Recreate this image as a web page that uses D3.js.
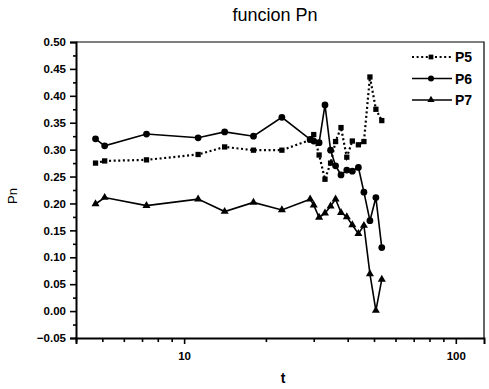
<!DOCTYPE html>
<html>
<head>
<meta charset="utf-8">
<script src="https://cdn.jsdelivr.net/npm/d3@7"></script>
<style>
  body { margin: 0; background: #fff; }
  text { font-family: "Liberation Sans", Arial, sans-serif; }
</style>
</head>
<body>
<div class="chart"></div>
<script>
// funcion Pn -- three series over t (log axis)

const width = 489
const height = 389

const tValues = [4.72, 5.1, 7.27, 11.26, 14.1, 18.0, 22.9, 29.1, 30.0, 31.4, 33.0, 34.6, 36.1, 37.8, 39.7, 41.6, 43.8, 45.9, 48.3, 50.8, 53.4]
const p5 = [0.275, 0.279, 0.281, 0.291, 0.305, 0.299, 0.299, 0.318, 0.328, 0.290, 0.245, 0.275, 0.315, 0.341, 0.286, 0.316, 0.309, 0.315, 0.435, 0.375, 0.354]
const p6 = [0.320, 0.307, 0.329, 0.322, 0.333, 0.325, 0.360, 0.319, 0.316, 0.313, 0.383, 0.299, 0.270, 0.253, 0.262, 0.260, 0.267, 0.221, 0.168, 0.211, 0.118]
const p7 = [0.199, 0.211, 0.196, 0.208, 0.185, 0.202, 0.188, 0.208, 0.197, 0.174, 0.182, 0.195, 0.208, 0.183, 0.175, 0.160, 0.144, 0.159, 0.069, 0.001, 0.059]

const seriesNames = ['P5', 'P6', 'P7']
const yTicks = [-0.05, 0, 0.05, 0.1, 0.15, 0.2, 0.25, 0.3, 0.35, 0.4, 0.45, 0.5]
const xTickLabels = [10, 100]

const series = [
  {name: seriesNames[0], values: p5, symbol: d3.symbolSquare, size: 28, dash: '2,2.6'},
  {name: seriesNames[1], values: p6, symbol: d3.symbolCircle, size: 36, dash: null},
  {name: seriesNames[2], values: p7, symbol: d3.symbolTriangle, size: 28, dash: null}
]

const svg = d3.select('.chart')
  .append('svg')
  .attr('width', width)
  .attr('height', height)
  .attr('viewBox', [0, 0, width, height])

const x = d3.scaleLog().domain([4, 127]).range([76, 484])
const y = d3.scaleLinear().domain([-0.05, 0.5]).range([338, 42])

// frame top/right
svg.append('path')
  .attr('d', `M${x.range()[0]},${y(0.5)}H${x.range()[1]}V${y(-0.05)}`)
  .attr('fill', 'none')
  .attr('stroke', '#000')
  .attr('stroke-width', 1.2)

// y axis
const yAxis = svg.append('g')
  .attr('transform', `translate(${x.range()[0]},0)`)
  .call(d3.axisLeft(y).tickValues(yTicks).tickFormat(d3.format('.2f')).tickSize(6).tickPadding(4))
yAxis.select('.domain').attr('stroke-width', 2)
yAxis.selectAll('.tick line').attr('stroke-width', 1.6)
yAxis.selectAll('.tick text')
  .style('font-size', '11.5px').style('font-weight', 'bold')
  .text(d => d === 0 ? '0.00' : d3.format('.2f')(d))

svg.append('g')
  .attr('transform', `translate(${x.range()[0]},0)`)
  .call(d3.axisLeft(y).tickValues(d3.range(-0.025, 0.5, 0.05)).tickSize(3).tickFormat(''))
  .call(g => g.select('.domain').remove())
  .selectAll('.tick line').attr('stroke-width', 1.6)

// x axis
const minorT = [4, 5, 6, 7, 8, 9, 20, 30, 40, 50, 60, 70, 80, 90]
const xAxis = svg.append('g')
  .attr('transform', `translate(0,${y(-0.05)})`)
  .call(d3.axisBottom(x).tickValues(xTickLabels).tickFormat(d3.format('d')).tickSize(6).tickPadding(8))
xAxis.select('.domain').attr('stroke-width', 2)
xAxis.selectAll('.tick line').attr('stroke-width', 1.6)
xAxis.selectAll('.tick text').style('font-size', '11.5px').style('font-weight', 'bold')

svg.append('g')
  .attr('transform', `translate(0,${y(-0.05)})`)
  .call(d3.axisBottom(x).tickValues(minorT).tickSize(4).tickFormat(''))
  .call(g => g.select('.domain').remove())
  .selectAll('.tick line').attr('stroke-width', 1.6)

// titles
svg.append('text')
  .attr('x', 275).attr('y', 21)
  .attr('text-anchor', 'middle')
  .style('font-size', '18px')
  .text('funcion Pn')

svg.append('text')
  .attr('x', 283).attr('y', 383)
  .attr('text-anchor', 'middle')
  .style('font-size', '14px').style('font-weight', 'bold')
  .text('t')

svg.append('text')
  .attr('transform', 'translate(17,196) rotate(-90)')
  .attr('text-anchor', 'middle')
  .style('font-size', '13px')
  .text('Pn')

// lines + markers
const line = d3.line()
  .x((d, i) => x(tValues[i]))
  .y(d => y(d))

series.forEach(s => {
  svg.append('path')
    .datum(s.values)
    .attr('d', line)
    .attr('fill', 'none')
    .attr('stroke', '#000')
    .attr('stroke-width', s.dash ? 2.2 : 1.6)
    .attr('stroke-dasharray', s.dash)

  svg.append('g')
    .selectAll('path')
    .data(s.values)
    .enter().append('path')
      .attr('transform', (d, i) => `translate(${x(tValues[i])},${y(d)})`)
      .attr('d', d3.symbol().type(s.symbol).size(s.size))
      .attr('fill', '#000')
})

// legend
const legend = svg.append('g')
  .selectAll('g')
  .data(series)
  .enter().append('g')
    .attr('transform', (d, i) => `translate(412,${57 + i * 21.5})`)

legend.append('line')
  .attr('x1', 0).attr('x2', 40)
  .attr('stroke', '#000')
  .attr('stroke-width', d => d.dash ? 2.2 : 1.6)
  .attr('stroke-dasharray', d => d.dash)

legend.append('path')
  .attr('transform', 'translate(19,0)')
  .attr('d', d => d3.symbol().type(d.symbol).size(d.size * 0.8)())
  .attr('fill', '#000')

legend.append('text')
  .attr('x', 43).attr('y', 5)
  .style('font-size', '14px').style('font-weight', 'bold')
  .text(d => d.name)
</script>
</body>
</html>
